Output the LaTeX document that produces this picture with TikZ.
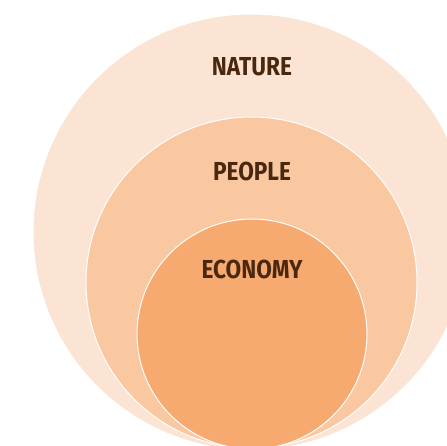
\documentclass[tikz,border=0pt]{standalone}
\usepackage{fontspec}
\setsansfont[FakeStretch=0.87]{Fira Sans}
\definecolor{natureC}{HTML}{FCE4D4}
\definecolor{peopleC}{HTML}{F9C8A0}
\definecolor{economyC}{HTML}{F6AA70}
\definecolor{labelC}{HTML}{4A2810}
\begin{document}
\begin{tikzpicture}[x=1pt,y=1pt,
  ring/.style={draw=white,line width=1pt},
  lbl/.style={font=\sffamily\bfseries\fontsize{26}{26}\selectfont,text=labelC,inner sep=0pt}]
\useasboundingbox (0,0) rectangle (447,445);
\clip (0,0) rectangle (447,445);
\fill[white] (0,0) rectangle (447,445);
\node[ring,fill=natureC,circle,minimum size=436pt,inner sep=0pt] (nature) at (251,213) {};
\node[ring,fill=peopleC,circle,minimum size=331pt,inner sep=0pt] (people) at (251.5,162.5) {};
\node[ring,fill=economyC,circle,minimum size=230pt,inner sep=0pt] (economy) at (252,111) {};
\node[lbl] (tnature) at (252,378) {NATURE};
\node[lbl] (tpeople) at (252,274) {PEOPLE};
\node[lbl] (teconomy) at (252,176) {ECONOMY};
\end{tikzpicture}
\end{document}
